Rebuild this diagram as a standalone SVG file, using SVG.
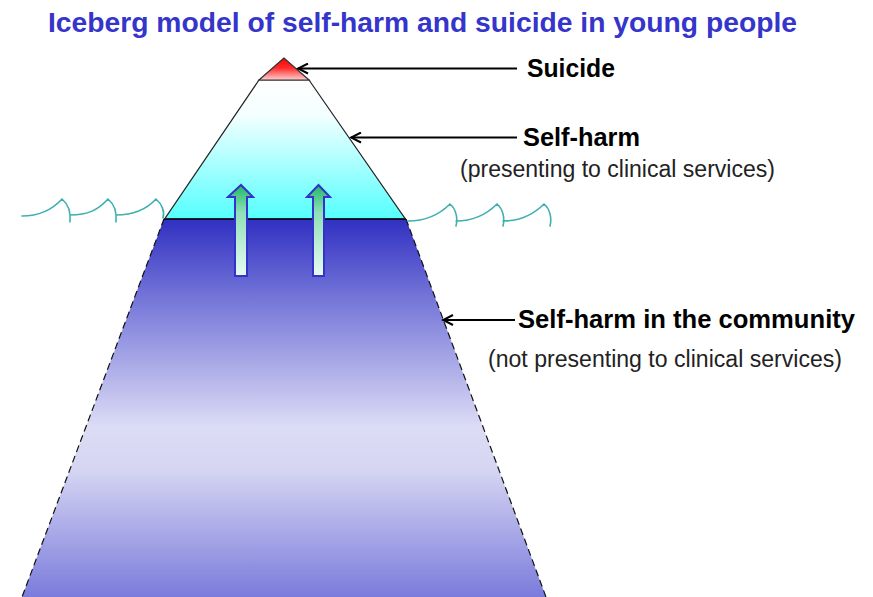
<svg xmlns="http://www.w3.org/2000/svg" width="873" height="597" viewBox="0 0 873 597">
<defs>
<linearGradient id="gRed" x1="0" y1="0" x2="0" y2="1">
<stop offset="0" stop-color="#ff0000"/><stop offset="0.45" stop-color="#ff2a2a"/><stop offset="1" stop-color="#ffd0d0"/>
</linearGradient>
<linearGradient id="gIce" x1="0" y1="0" x2="0" y2="1">
<stop offset="0" stop-color="#ffffff"/><stop offset="0.25" stop-color="#f4ffff"/><stop offset="1" stop-color="#55ffff"/>
</linearGradient>
<linearGradient id="gSea" x1="0" y1="0" x2="0" y2="1">
<stop offset="0" stop-color="#3030c2"/><stop offset="0.2" stop-color="#7272d8"/><stop offset="0.55" stop-color="#dcdcf6"/><stop offset="0.66" stop-color="#d6d6f3"/><stop offset="1" stop-color="#7b7bdc"/>
</linearGradient>
<linearGradient id="gArrow" x1="0" y1="0" x2="0" y2="1">
<stop offset="0" stop-color="#1fb866"/><stop offset="0.3" stop-color="#8fe0b8"/><stop offset="1" stop-color="#e8fbf2"/>
</linearGradient>
<marker id="ah" markerWidth="14" markerHeight="12" refX="12" refY="6" orient="auto" markerUnits="userSpaceOnUse">
<path d="M2,1 L12,6 L2,11" fill="none" stroke="#000" stroke-width="2"/>
</marker>
<style>
.lbl{font-family:"Liberation Sans",Arial,sans-serif;font-weight:bold;font-size:25px;fill:#000}
.sub{font-family:"Liberation Sans",Arial,sans-serif;font-size:23px;fill:#222}
.title{font-family:"Liberation Sans",Arial,sans-serif;font-weight:bold;font-size:28px;fill:#3535cc}
.wave{fill:none;stroke:#3fb0b0;stroke-width:1.6;stroke-linecap:round}
.conn{stroke:#000;stroke-width:2;fill:none}
.up{fill:url(#gArrow);stroke:#3333cc;stroke-width:2}
</style>
</defs>
<rect width="873" height="597" fill="#ffffff"/>
<text class="title" x="48" y="32" textLength="749" lengthAdjust="spacingAndGlyphs">Iceberg model of self-harm and suicide in young people</text>

<g id="sea-part">
<polygon points="164,219 406,219 546,597 22,597" fill="url(#gSea)"/>
<path d="M164,219 L22,597 M406,219 L546,597" stroke="#111" stroke-width="1.2" stroke-dasharray="7,4" fill="none"/>
<line x1="164" y1="219" x2="406" y2="219" stroke="#000" stroke-width="1.5"/>
</g>
<g id="ice-part">
<polygon points="259,80 309,80 405,218.5 165,218.5" fill="url(#gIce)" stroke="#222" stroke-width="1.2"/>
</g>
<g id="tip">
<polygon points="284,58 259,80 309,80" fill="url(#gRed)" stroke="#333" stroke-width="1.2"/>
</g>
<g id="waves">
<path class="wave" d="M22,216 C40,216 52,210 62,199 C68,204 71,212 70,222 M70,215 C88,215 98,210 108,199 C114,204 117,212 116,222 M116,215 C134,215 146,210 156,199 C162,204 165,212 163,218"/>
<path class="wave" d="M408,221 C426,221 440,214 450,204 C456,209 458,218 456,226 M456,221 C474,221 487,214 497,204 C503,209 505,218 503,226 M503,221 C521,221 534,214 544,204 C550,209 552,218 550,226"/>
</g>
<g id="up-arrows">
<polygon class="up" points="235,276 247,276 247,197 253,197 241,185 228,197 235,197"/>
<polygon class="up" points="313,276 324,276 324,197 330,197 318.5,185 307,197 313,197"/>
</g>
<g id="connectors">
<line class="conn" x1="517" y1="68.5" x2="298" y2="68.5" marker-end="url(#ah)"/>
<line class="conn" x1="517" y1="137.5" x2="351" y2="137.5" marker-end="url(#ah)"/>
<line class="conn" x1="515" y1="320" x2="443" y2="320" marker-end="url(#ah)"/>
</g>
<g id="label-suicide">
<text class="lbl" x="527" y="77" textLength="88" lengthAdjust="spacingAndGlyphs">Suicide</text>
</g>
<g id="label-selfharm">
<text class="lbl" x="523" y="146" textLength="117" lengthAdjust="spacingAndGlyphs">Self-harm</text>
<text class="sub" x="460" y="177" textLength="315" lengthAdjust="spacingAndGlyphs">(presenting to clinical services)</text>
</g>
<g id="label-community">
<text class="lbl" x="518" y="328" textLength="337" lengthAdjust="spacingAndGlyphs">Self-harm in the community</text>
<text class="sub" x="488" y="367" textLength="354" lengthAdjust="spacingAndGlyphs">(not presenting to clinical services)</text>
</g>
</svg>
